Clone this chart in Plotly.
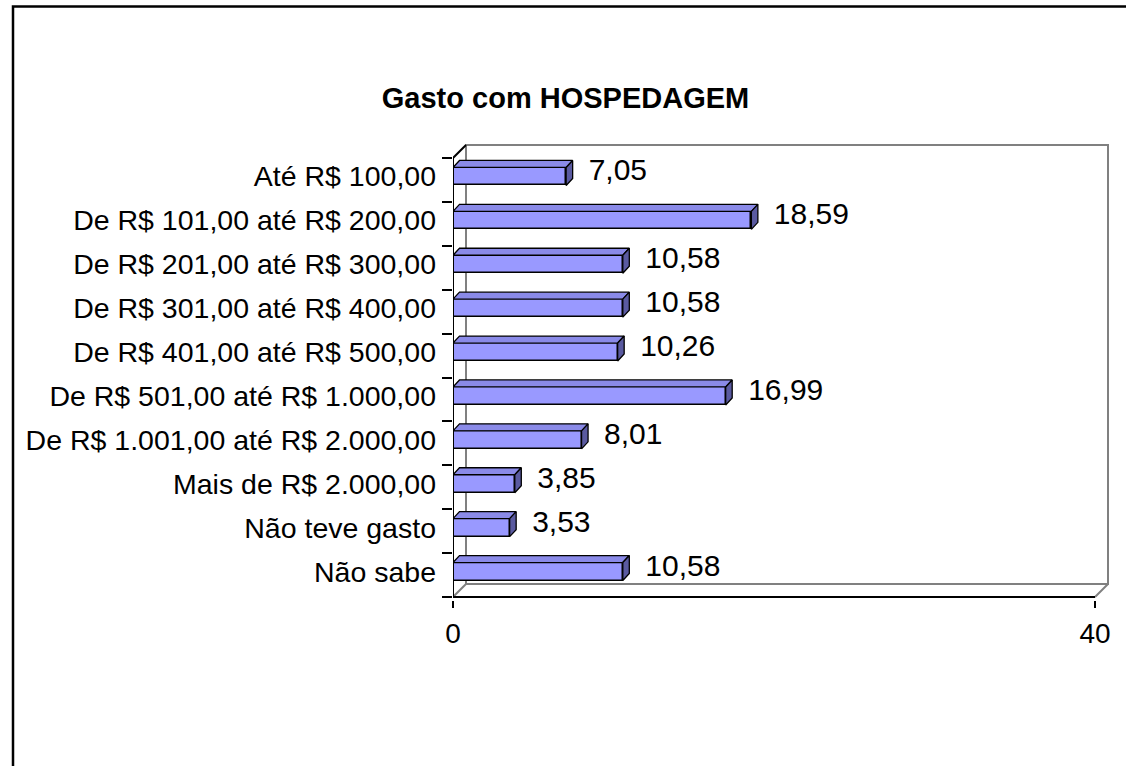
import plotly.graph_objects as go

# ---------------- data ----------------
categories = [
    "Até R$ 100,00",
    "De R$ 101,00 até R$ 200,00",
    "De R$ 201,00 até R$ 300,00",
    "De R$ 301,00 até R$ 400,00",
    "De R$ 401,00 até R$ 500,00",
    "De R$ 501,00 até R$ 1.000,00",
    "De R$ 1.001,00 até R$ 2.000,00",
    "Mais de R$ 2.000,00",
    "Não teve gasto",
    "Não sabe",
]
values = [7.05, 18.59, 10.58, 10.58, 10.26, 16.99, 8.01, 3.85, 3.53, 10.58]
x_tick_values = [0, 40]
x_tick_labels = ["0", "40"]
title_text = "Gasto com HOSPEDAGEM"

# ---------------- geometry (pixels -> data units) ----------------
W, H = 1126, 766
X0_PX = 453          # pixel of x = 0
PXX = 16.05          # pixels per x unit
YTOP_PX = 158        # pixel of index -0.5
PXY = 43.9           # pixels per category row
PLOT_RIGHT_PX = 1116
PLOT_TOP_PX = 138
PLOT_BOTTOM_PX = 600

x_max = (PLOT_RIGHT_PX - X0_PX) / PXX
y_top = -0.5 - (YTOP_PX - PLOT_TOP_PX) / PXY
y_bot = -0.5 + (PLOT_BOTTOM_PX - YTOP_PX) / PXY

FONT = "Arial, 'Liberation Sans', sans-serif"
FRONT = "#9999FF"
TOPC = "#8A8AE8"
SIDE = "#5A5AA0"
GRAY = "#808080"

BAR_OFF = -0.285
BAR_W = 0.41
DX = 6.5 / PXX
DY = 7.0 / PXY
DXW = 13.0 / PXX
DYW = 13.0 / PXY
LABEL_GAP = 16.0 / PXX

n = len(categories)
idx = list(range(n))
labels = [f"{v:.2f}".replace(".", ",") for v in values]

fig = go.Figure()

# front faces
fig.add_trace(go.Bar(
    x=values, y=idx, orientation="h", width=BAR_W, offset=BAR_OFF,
    marker=dict(color=FRONT, line=dict(color="black", width=1.5)),
    hoverinfo="skip", showlegend=False,
))

# top and side faces
tx, ty, sx, sy = [], [], [], []
for i, v in zip(idx, values):
    yt = i + BAR_OFF
    tx += [0, v, v + DX, DX, 0, None]
    ty += [yt, yt, yt - DY, yt - DY, yt, None]
    sx += [v, v + DX, v + DX, v, v, None]
    sy += [yt, yt - DY, yt + BAR_W - DY, yt + BAR_W, yt, None]

fig.add_trace(go.Scatter(x=tx, y=ty, mode="lines", fill="toself", fillcolor=TOPC,
                         line=dict(color="black", width=1.3), hoverinfo="skip", showlegend=False))
fig.add_trace(go.Scatter(x=sx, y=sy, mode="lines", fill="toself", fillcolor=SIDE,
                         line=dict(color="black", width=1.3), hoverinfo="skip", showlegend=False))

# value labels
fig.add_trace(go.Scatter(
    x=[v + DX + LABEL_GAP for v in values],
    y=[i + BAR_OFF + (BAR_W - DY) / 2 for i in idx],
    mode="text", text=labels, textposition="middle right",
    textfont=dict(family=FONT, size=30, color="black"),
    cliponaxis=False, hoverinfo="skip", showlegend=False,
))

# invisible trace to carry the tick-mark axis
fig.add_trace(go.Scatter(x=[0], y=[-0.5], yaxis="y2", mode="markers",
                         marker=dict(opacity=0), hoverinfo="skip", showlegend=False))

shapes = []
# back wall and floor (gray)
shapes.append(dict(type="rect", xref="x", yref="y", x0=DXW, x1=40 + DXW,
                   y0=-0.5 - DYW, y1=9.5 - DYW, line=dict(color=GRAY, width=2), layer="below"))
shapes.append(dict(type="line", xref="x", yref="y", x0=0, y0=9.5, x1=DXW, y1=9.5 - DYW,
                   line=dict(color=GRAY, width=2), layer="below"))
shapes.append(dict(type="line", xref="x", yref="y", x0=40, y0=9.5, x1=40 + DXW, y1=9.5 - DYW,
                   line=dict(color=GRAY, width=2), layer="below"))
# front axis lines (black)
shapes.append(dict(type="line", xref="x", yref="y", x0=0, y0=-0.5, x1=0, y1=9.5,
                   line=dict(color="black", width=2)))
shapes.append(dict(type="line", xref="x", yref="y", x0=0, y0=9.5, x1=40, y1=9.5,
                   line=dict(color="black", width=2)))
shapes.append(dict(type="line", xref="x", yref="y", x0=0, y0=-0.5, x1=DXW, y1=-0.5 - DYW,
                   line=dict(color="black", width=2)))

# outer frame (paper coordinates)
plot_w = PLOT_RIGHT_PX - X0_PX
plot_h = PLOT_BOTTOM_PX - PLOT_TOP_PX
def px_to_paper_x(px):
    return (px - X0_PX) / plot_w
def px_to_paper_y(py):
    return (PLOT_BOTTOM_PX - py) / plot_h
shapes.append(dict(type="rect", xref="paper", yref="paper",
                   x0=px_to_paper_x(13), x1=px_to_paper_x(1140),
                   y0=px_to_paper_y(780), y1=px_to_paper_y(6.5),
                   line=dict(color="black", width=2.5)))

fig.update_layout(
    width=W, height=H,
    margin=dict(l=X0_PX, r=W - PLOT_RIGHT_PX, t=PLOT_TOP_PX, b=H - PLOT_BOTTOM_PX, pad=0),
    paper_bgcolor="white", plot_bgcolor="white",
    font=dict(family=FONT, color="black"),
    title=dict(text=f"<b>{title_text}</b>", x=565.5 / W, xref="container", xanchor="center",
               y=1 - 98 / H, yref="container", yanchor="middle",
               font=dict(family=FONT, size=29, color="black")),
    showlegend=False,
    bargap=0,
    xaxis=dict(range=[0, x_max], tickvals=x_tick_values, ticktext=x_tick_labels,
               ticks="outside", ticklen=7, tickwidth=2, tickcolor="black",
               showline=False, showgrid=False, zeroline=False,
               tickfont=dict(family=FONT, size=28, color="black"), ticklabelstandoff=1),
    yaxis=dict(range=[y_bot, y_top], tickvals=[i + BAR_OFF + BAR_W / 2 for i in idx],
               ticktext=categories, ticks="", showline=False, showgrid=False, zeroline=False,
               tickfont=dict(family=FONT, size=28.5, color="black"), ticklabelstandoff=16),
    yaxis2=dict(range=[y_bot, y_top], overlaying="y", side="left",
                tickvals=[k - 0.5 for k in range(n + 1)], ticks="outside", ticklen=10,
                tickwidth=2, tickcolor="black", showticklabels=False,
                showline=False, showgrid=False, zeroline=False),
    shapes=shapes,
)

fig.write_html("out.html", config={"displayModeBar": False},
               post_script="document.body.style.margin='0';document.body.style.overflow='hidden';")
